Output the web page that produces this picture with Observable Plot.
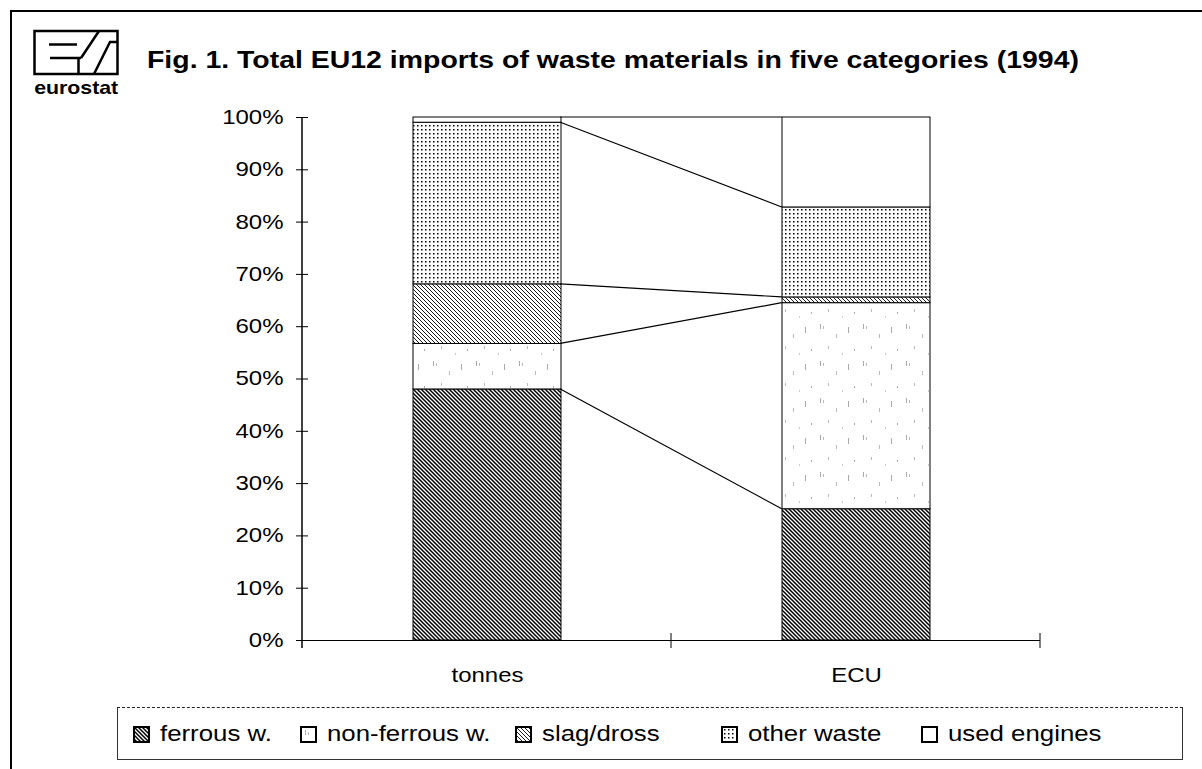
<!DOCTYPE html>
<html><head><meta charset="utf-8">
<script src="https://cdn.jsdelivr.net/npm/d3@7"></script>
<script src="https://cdn.jsdelivr.net/npm/@observablehq/plot@0.6"></script>
<style>
html,body{margin:0;padding:0;background:#fff;}
#page{position:relative;width:1202px;height:769px;overflow:hidden;font-family:"Liberation Sans",Arial,Helvetica,sans-serif;color:#000;}
#frame{position:absolute;left:10px;top:10px;width:1200px;height:770px;border-top:2px solid #000;border-left:2px solid #000;}
#logo{position:absolute;left:33px;top:29px;}
#title{position:absolute;left:147px;top:46px;font-weight:bold;font-size:24px;line-height:28px;white-space:nowrap;transform:scaleX(1.185);transform-origin:0 0;}
#chart{position:absolute;left:0;top:100px;}
#legend{position:absolute;left:117px;top:707px;width:1066px;height:53px;border:1px solid #333;border-top:1px dashed #222;box-sizing:border-box;}
.item{position:absolute;top:0;height:53px;display:flex;align-items:center;white-space:nowrap;}
.sw{width:13px;height:13px;border:2px solid #000;margin-right:10px;background:#fff;line-height:0;}
.lt{font-size:21.5px;display:inline-block;transform:scaleX(1.2);transform-origin:0 50%;}
#defs{position:absolute;width:0;height:0;}
</style></head>
<body>
<div id="page">
  <svg id="defs" width="0" height="0">
    <defs>
      <pattern id="p-ferrous" patternUnits="userSpaceOnUse" width="4" height="4">
        <rect width="4" height="4" fill="#fff"/>
        <path d="M-1,-1L5,5M-1,3L1,5M3,-1L5,1" stroke="#000" stroke-width="1.5"/>
      </pattern>
      <pattern id="p-nonferrous" patternUnits="userSpaceOnUse" width="43" height="37">
        <rect width="43" height="37" fill="#fff"/>
        <rect x="3" y="2" width="1" height="5" fill="#aaa"/>
        <rect x="6" y="4" width="1" height="3" fill="#bbb"/>
        <rect x="19" y="12" width="1" height="4" fill="#bbb"/>
        <rect x="31" y="5" width="1" height="6" fill="#aaa"/>
        <rect x="11" y="24" width="1" height="3" fill="#bbb"/>
        <rect x="37" y="27" width="1" height="2" fill="#aaa"/>
        <rect x="25" y="31" width="1" height="2" fill="#ccc"/>
      </pattern>
      <pattern id="p-slag" patternUnits="userSpaceOnUse" width="4" height="4">
        <rect width="4" height="4" fill="#fff"/>
        <path d="M-1,-1L5,5M-1,3L1,5M3,-1L5,1" stroke="#000" stroke-width="0.9"/>
      </pattern>
      <pattern id="p-other" patternUnits="userSpaceOnUse" width="4" height="4">
        <rect width="4" height="4" fill="#fff"/>
        <rect x="1" y="1" width="1.5" height="1.5" fill="#000"/>
      </pattern>
      <pattern id="p-engines" patternUnits="userSpaceOnUse" width="4" height="4">
        <rect width="4" height="4" fill="#fff"/>
      </pattern>
    </defs>
  </svg>
  <div id="frame"></div>
  <svg id="logo" width="92" height="72">
    <rect x="1.5" y="2" width="83" height="43" fill="none" stroke="#000" stroke-width="2.5"/>
    <path d="M16,15.5H44M17,29H48M45.5,29V45M48,29L66,2M61,45L77,13H85" stroke="#000" stroke-width="2.5" fill="none"/>
    <text x="1" y="65" font-family="Liberation Sans, Arial, sans-serif" font-weight="bold" font-size="18" transform="scale(1.2,1)" textLength="70" lengthAdjust="spacingAndGlyphs">eurostat</text>
  </svg>
  <div id="title">Fig. 1. Total EU12 imports of waste materials in five categories (1994)</div>
  <div id="chart"></div>
  <div id="legend"></div>
</div>
<script>
// ---- data ----
const units = ["tonnes", "ECU"];
const categories = ["ferrous w.", "non-ferrous w.", "slag/dross", "other waste", "used engines"];
const tonnesShare = [48.0, 8.7, 11.4, 30.9, 1.0];
const ecuShare = [25.1, 39.4, 1.1, 17.2, 17.2];
const yTicks = [0, 10, 20, 30, 40, 50, 60, 70, 80, 90, 100];
const patternIds = ["p-ferrous", "p-nonferrous", "p-slag", "p-other", "p-engines"];

const rows = [];
categories.forEach((c, i) => {
  rows.push({unit: units[0], cat: c, value: tonnesShare[i]});
  rows.push({unit: units[1], cat: c, value: ecuShare[i]});
});

const W = 1202, H = 600;
const PI = 0.6, PO = 0.3;
const chart = Plot.plot({
  width: W, height: H,
  marginLeft: 302, marginRight: 162, marginTop: 17, marginBottom: 60,
  style: {fontFamily: "Liberation Sans, Arial, sans-serif", fontSize: "20px", color: "#000", background: "transparent"},
  x: {domain: units, paddingInner: PI, paddingOuter: PO, label: null},
  y: {domain: [0, 100], label: null},
  color: {type: "ordinal", domain: categories, range: patternIds.map(id => `url(#${id})`)},
  marks: [
    Plot.ruleY([0], {stroke: "#000", strokeWidth: 1.2}),
    Plot.rectY(rows, Plot.stackY({x: "unit", y: "value", fill: "cat", order: categories, stroke: "#000", strokeWidth: 1})),
    Plot.axisY({ticks: yTicks, tickFormat: d => d + "%", tickSize: 12, dx: 6, tickPadding: 13, fontSize: 20, label: null}),
    Plot.axisX({tickSize: 0, tickPadding: 27, fontSize: 20, label: null})
  ]
});
document.getElementById("chart").appendChild(chart);

// widen the tick labels like the scanned original (anchor point stays fixed)
const K = 1.2;
const svg = d3.select(chart);
svg.selectAll("text").each(function() {
  const t = d3.select(this);
  const xa = t.attr("x");
  if (xa != null && isFinite(+xa)) t.attr("x", +xa / K);
  const tr = t.attr("transform") || "";
  t.attr("transform", `${tr} scale(${K},1)`);
});

// connector lines, axis line and band boundary ticks, positioned with the plot's scales
const sx = chart.scale("x"), sy = chart.scale("y");
const band = d3.scaleBand(sx.domain, sx.range).paddingInner(PI).paddingOuter(PO).align(0.5);
const yS = d3.scaleLinear(sy.domain, sy.range);
const g = svg.append("g").attr("stroke", "#000").attr("fill", "none");
const cumT = d3.cumsum(tonnesShare), cumE = d3.cumsum(ecuShare);
const xr = band(units[0]) + band.bandwidth(), xl = band(units[1]);
cumT.forEach((v, i) => {
  g.append("line").attr("x1", xr).attr("x2", xl)
    .attr("y1", yS(Math.min(v, 100))).attr("y2", yS(Math.min(cumE[i], 100))).attr("stroke-width", 1.2);
});
const y0 = yS(0), y100 = yS(100);
g.append("line").attr("x1", sx.range[0]).attr("x2", sx.range[0]).attr("y1", y100).attr("y2", y0 + 8).attr("stroke-width", 1.5);
const bounds = [sx.range[0], (xr + xl) / 2, sx.range[1]];
bounds.slice(1).forEach(bx => {
  g.append("line").attr("x1", bx).attr("x2", bx).attr("y1", y0 - 7).attr("y2", y0 + 8).attr("stroke-width", 1);
});

// legend
const legendX = [133, 300, 515, 721, 921];
const legend = document.getElementById("legend");
categories.forEach((c, i) => {
  const it = document.createElement("div");
  it.className = "item";
  it.style.left = (legendX[i] - 118) + "px";
  const sw = document.createElement("div");
  sw.className = "sw";
  sw.innerHTML = `<svg width="13" height="13"><rect width="13" height="13" fill="url(#${patternIds[i]})"/></svg>`;
  it.appendChild(sw);
  const t = document.createElement("span");
  t.className = "lt";
  t.textContent = c;
  it.appendChild(t);
  legend.appendChild(it);
});
</script>
</body></html>
